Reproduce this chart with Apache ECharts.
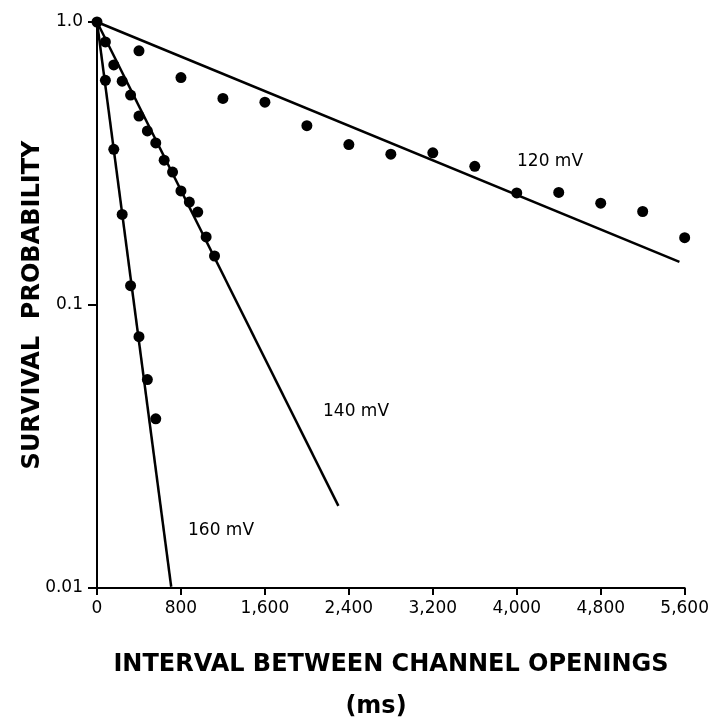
<!DOCTYPE html>
<html>
<head>
<meta charset="utf-8">
<script src="https://cdn.jsdelivr.net/npm/echarts@6/dist/echarts.min.js"></script>
<style>
  html, body { margin: 0; padding: 0; background: #fff; }
  #chart { width: 712px; height: 719px; }
</style>
</head>
<body>
<div id="chart"></div>
<script>
// interval between openings (ms) and survival probability
var x120 = [0, 400, 800, 1200, 1600, 2000, 2400, 2800, 3200, 3600, 4000, 4400, 4800, 5200, 5600];
var y120 = [1.0, 0.791, 0.636, 0.537, 0.521, 0.430, 0.369, 0.341, 0.345, 0.309, 0.249, 0.250, 0.229, 0.214, 0.173];

var x140 = [80, 160, 240, 320, 400, 480, 560, 640, 720, 800, 880, 960, 1040, 1120];
var y140 = [0.850, 0.705, 0.618, 0.552, 0.465, 0.412, 0.374, 0.325, 0.295, 0.253, 0.231, 0.213, 0.174, 0.149];

var x160 = [80, 160, 240, 320, 400, 480, 560];
var y160 = [0.622, 0.355, 0.209, 0.117, 0.0773, 0.0545, 0.0396];

// hand drawn fit lines (start, end)
var fit120 = [[0, 1.0], [5550, 0.142]];
var fit140 = [[0, 1.0], [2300, 0.0195]];
var fit160 = [[0, 1.0], [707, 0.0101]];

var xTicks = [0, 800, 1600, 2400, 3200, 4000, 4800, 5600];
var yTicks = ['0.01', '0.1', '1.0'];

function pairs(xs, ys) {
  return xs.map(function (x, i) { return [x, ys[i]]; });
}

var FONT = 'DejaVu Sans';
var chart = echarts.init(document.getElementById('chart'));

function dots(xs, ys) {
  return {
    type: 'scatter',
    data: pairs(xs, ys),
    symbol: 'circle',
    symbolSize: 11,
    itemStyle: { color: '#000', opacity: 1 },
    z: 3
  };
}
function fit(d) {
  return {
    type: 'line',
    data: d,
    showSymbol: false,
    lineStyle: { color: '#000', width: 2.5 },
    z: 2
  };
}

chart.setOption({
  animation: false,
  backgroundColor: '#fff',
  grid: { left: 97, right: 27, top: 22, bottom: 131 },
  xAxis: {
    type: 'value',
    min: 0,
    max: 5600,
    interval: 800,
    axisLine: { lineStyle: { color: '#000', width: 2 } },
    axisTick: { length: 7, lineStyle: { color: '#000', width: 2 } },
    splitLine: { show: false },
    axisLabel: {
      color: '#000',
      fontFamily: FONT,
      fontSize: 17,
      margin: 12,
      formatter: function (v) {
        if (xTicks.indexOf(v) < 0) return '';
        return String(v).replace(/\B(?=(\d{3})+(?!\d))/g, ',');
      }
    }
  },
  yAxis: {
    type: 'log',
    logBase: 10,
    min: 0.01,
    max: 1,
    axisLine: { lineStyle: { color: '#000', width: 2 } },
    axisTick: { length: 9, lineStyle: { color: '#000', width: 2 } },
    minorTick: { show: false },
    splitLine: { show: false },
    axisLabel: {
      color: '#000',
      fontFamily: FONT,
      fontSize: 17,
      margin: 14,
      formatter: function (v) {
        var k = Math.round(Math.log10(v)) + 2;
        return yTicks[k] || '';
      }
    }
  },
  graphic: [
    { type: 'text', left: 517, top: 153, style: { text: '120 mV', font: '17px ' + FONT, fill: '#000' } },
    { type: 'text', left: 323, top: 403, style: { text: '140 mV', font: '17px ' + FONT, fill: '#000' } },
    { type: 'text', left: 188, top: 522, style: { text: '160 mV', font: '17px ' + FONT, fill: '#000' } },
    {
      type: 'text', x: 391, y: 665,
      style: { text: 'INTERVAL BETWEEN CHANNEL OPENINGS', font: 'bold 24px ' + FONT, fill: '#000', textAlign: 'center', textVerticalAlign: 'middle' }
    },
    {
      type: 'text', x: 376, y: 707,
      style: { text: '(ms)', font: 'bold 24px ' + FONT, fill: '#000', textAlign: 'center', textVerticalAlign: 'middle' }
    },
    {
      type: 'text', x: 33, y: 305, rotation: Math.PI / 2,
      style: { text: 'SURVIVAL  PROBABILITY', font: 'bold 24px ' + FONT, fill: '#000', textAlign: 'center', textVerticalAlign: 'middle' }
    }
  ],
  series: [
    fit(fit120), fit(fit140), fit(fit160),
    dots(x120, y120), dots(x140, y140), dots(x160, y160)
  ]
});
</script>
</body>
</html>
